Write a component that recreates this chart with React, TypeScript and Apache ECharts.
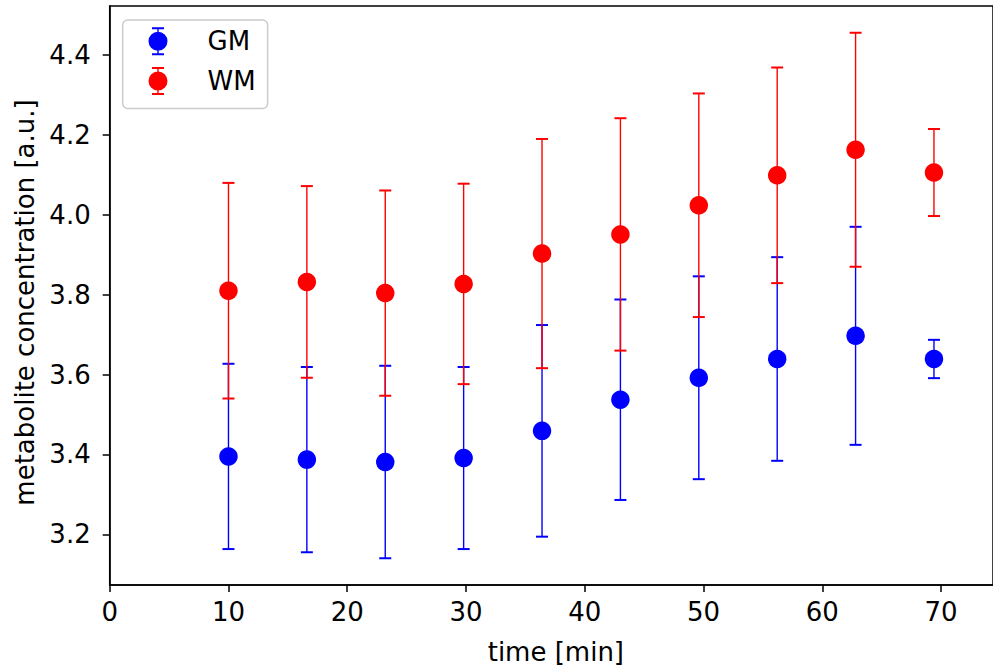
import { useEffect, useRef } from "react";
import * as echarts from "echarts";

const timeMin = [10, 16.6, 23.2, 29.8, 36.4, 43.0, 49.6, 56.2, 62.8, 69.4];
const gmMean = [3.395, 3.387, 3.381, 3.391, 3.459, 3.537, 3.592, 3.639, 3.697, 3.639];
const gmErr = [0.232, 0.232, 0.241, 0.228, 0.265, 0.251, 0.254, 0.255, 0.273, 0.048];
const wmMean = [3.81, 3.832, 3.804, 3.827, 3.903, 3.951, 4.024, 4.099, 4.163, 4.106];
const wmErr = [0.27, 0.24, 0.257, 0.251, 0.287, 0.291, 0.28, 0.27, 0.293, 0.109];
const xTicks = [0, 10, 20, 30, 40, 50, 60, 70];
const yTicks = [3.2, 3.4, 3.6, 3.8, 4.0, 4.2, 4.4];

const FONT = "DejaVu Sans";
const FS = 26;
const GM_COLOR = "#0000ff";
const WM_COLOR = "#ff0000";

const legendIcon =
  "path://M3.5 0 H15.5 V2 H3.5 Z M3.5 26 H15.5 V28 H3.5 Z M8.8 2 H10.2 V26 H8.8 Z M0 14 A9.5 9.5 0 1 1 19 14 A9.5 9.5 0 1 1 0 14 Z";

function errorSeries(name: string, mean: number[], err: number[], color: string) {
  return {
    type: "custom",
    name: name + "-err",
    silent: true,
    data: timeMin.map((t, i) => [t, mean[i] - err[i], mean[i] + err[i]]),
    encode: { x: 0, y: [1, 2] },
    renderItem: (_params: any, api: any) => {
      const x = api.value(0);
      const lo = api.coord([x, api.value(1)]);
      const hi = api.coord([x, api.value(2)]);
      const cap = 6;
      return {
        type: "group",
        children: [
          {
            type: "line",
            shape: { x1: lo[0], y1: lo[1], x2: hi[0], y2: hi[1] },
            style: { stroke: color, lineWidth: 1.4 },
          },
          {
            type: "line",
            shape: { x1: hi[0] - cap, y1: hi[1], x2: hi[0] + cap, y2: hi[1] },
            style: { stroke: color, lineWidth: 2 },
          },
          {
            type: "line",
            shape: { x1: lo[0] - cap, y1: lo[1], x2: lo[0] + cap, y2: lo[1] },
            style: { stroke: color, lineWidth: 2 },
          },
        ],
      };
    },
    z: 2,
  };
}

export default function App() {
  const ref = useRef<HTMLDivElement>(null);
  useEffect(() => {
    if (!ref.current) return;
    const chart = echarts.init(ref.current, undefined, { renderer: "svg" });
    chart.setOption({
      animation: false,
      backgroundColor: "#ffffff",
      textStyle: { fontFamily: FONT, color: "#000" },
      grid: {
        left: 109.7,
        right: -2,
        top: 6,
        bottom: 83.3,
        show: true,
        borderColor: "#000",
        borderWidth: 1.5,
        containLabel: false,
      },
      legend: {
        data: ["GM", "WM"],
        orient: "vertical",
        left: 122.7,
        top: 20,
        itemWidth: 19,
        itemHeight: 28,
        itemGap: 11.7,
        padding: [7.3, 12, 13.4, 25.8],
        backgroundColor: "#ffffff",
        borderColor: "#cccccc",
        borderWidth: 1.5,
        borderRadius: 5,
        icon: legendIcon,
        textStyle: {
          fontFamily: FONT,
          fontSize: FS,
          color: "#000",
          padding: [0, 0, 0, 35],
        },
      },
      xAxis: {
        type: "value",
        min: 0,
        max: 74.37,
        name: "time [min]",
        nameLocation: "middle",
        nameGap: 54,
        nameTextStyle: {
          fontFamily: FONT,
          fontSize: FS,
          color: "#000",
          padding: [0, 0, 0, 9],
        },
        axisLine: { show: true, onZero: false, lineStyle: { color: "#000", width: 1.5 } },
        axisTick: {
          show: true,
          length: 7,
          customValues: xTicks,
          lineStyle: { color: "#000", width: 1.5 },
        },
        axisLabel: {
          customValues: xTicks,
          margin: 14,
          fontFamily: FONT,
          fontSize: FS,
          color: "#000",
          formatter: (v: number) => String(v),
        },
        splitLine: { show: false },
      },
      yAxis: {
        type: "value",
        min: 3.073,
        max: 4.523,
        name: "metabolite concentration [a.u.]",
        nameLocation: "middle",
        nameGap: 70,
        nameTextStyle: {
          fontFamily: FONT,
          fontSize: FS,
          color: "#000",
          padding: [0, 14, 0, 0],
        },
        axisLine: { show: true, onZero: false, lineStyle: { color: "#000", width: 1.5 } },
        axisTick: {
          show: true,
          length: 7,
          customValues: yTicks,
          lineStyle: { color: "#000", width: 1.5 },
        },
        axisLabel: {
          customValues: yTicks,
          margin: 19,
          fontFamily: FONT,
          fontSize: FS,
          color: "#000",
          formatter: (v: number) => v.toFixed(1),
        },
        splitLine: { show: false },
      },
      series: [
        errorSeries("GM", gmMean, gmErr, GM_COLOR),
        {
          type: "scatter",
          name: "GM",
          symbol: "circle",
          symbolSize: 18.5,
          itemStyle: { color: GM_COLOR, opacity: 1 },
          data: timeMin.map((t, i) => [t, gmMean[i]]),
          z: 3,
        },
        errorSeries("WM", wmMean, wmErr, WM_COLOR),
        {
          type: "scatter",
          name: "WM",
          symbol: "circle",
          symbolSize: 18.5,
          itemStyle: { color: WM_COLOR, opacity: 1 },
          data: timeMin.map((t, i) => [t, wmMean[i]]),
          z: 5,
        },
      ],
    });
    return () => chart.dispose();
  }, []);
  return (
    <div
      ref={ref}
      style={{ position: "fixed", left: 0, top: 0, width: 993, height: 670, background: "#fff" }}
    />
  );
}
